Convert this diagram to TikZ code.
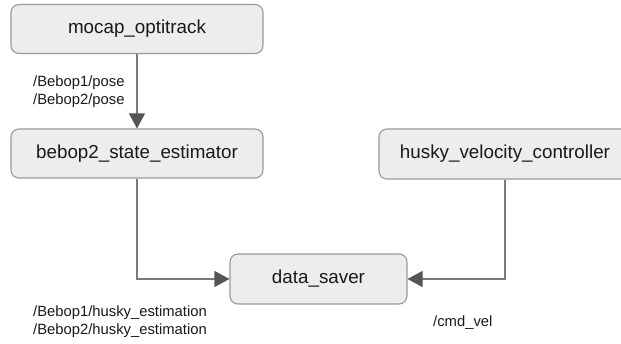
\documentclass[tikz,border=0pt]{standalone}
\usepackage{fontspec}
\setmainfont{Liberation Sans}
\usetikzlibrary{arrows.meta}
\definecolor{boxfill}{HTML}{EDEDED}
\definecolor{boxline}{HTML}{9A9A9A}
\definecolor{wire}{HTML}{7A7A7A}
\definecolor{tipc}{HTML}{555555}
\tikzset{
  procbox/.style={draw=boxline, fill=boxfill, line width=1.1pt, rounded corners=8pt,
    inner sep=0pt, font=\fontsize{18.8}{22}\selectfont, text=black!90},
  wirestyle/.style={draw=wire, line width=1.1pt,
    -{Triangle[length=15pt,width=16pt,fill=tipc,color=tipc]}},
  topic/.style={inner sep=0pt, align=left, font=\fontsize{14.8}{17.7}\selectfont, text=black!90}
}
\begin{document}
\begin{tikzpicture}[x=1pt,y=-1pt]
\clip (0,0) rectangle (621,344);
\fill[white] (0,0) rectangle (621,344);
\node[procbox, minimum width=252pt, minimum height=49pt] (mocap) at (137,29) {mocap\_optitrack};
\node[procbox, minimum width=252pt, minimum height=49pt] (bebop) at (137,153.5) {bebop2\_state\_estimator};
\node[procbox, minimum width=252pt, minimum height=50pt] (husky) at (505,154) {husky\_velocity\_controller};
\node[procbox, minimum width=177pt, minimum height=50pt] (saver) at (318.5,279) {data\_saver};
\draw[wirestyle] (mocap) -- (bebop);
\draw[wirestyle] (bebop.south) |- (saver.west);
\draw[wirestyle] (husky.south) |- (saver.east);
\node[topic, anchor=west] (t1) at (33,92) {/Bebop1/pose\\/Bebop2/pose};
\node[topic, anchor=west] (t2) at (33,322) {/Bebop1/husky\_estimation\\/Bebop2/husky\_estimation};
\node[topic, anchor=west] (t3) at (433,323) {/cmd\_vel};
\end{tikzpicture}
\end{document}
